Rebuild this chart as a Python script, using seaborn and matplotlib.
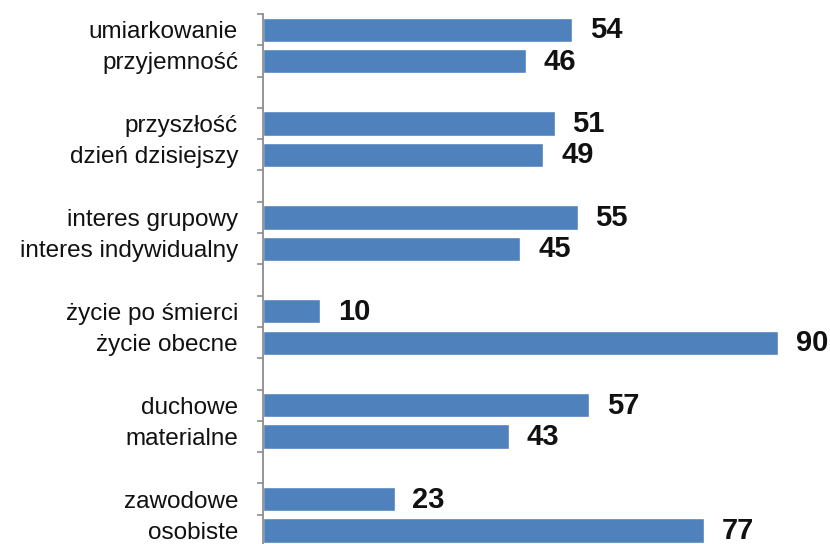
import matplotlib
matplotlib.use("Agg")
import matplotlib.pyplot as plt
import seaborn as sns
import pandas as pd
import numpy as np
from matplotlib.ticker import FixedLocator

# Pairs of opposing values, top to bottom
labels = [
    "umiarkowanie", "przyjemność",
    "przyszłość", "dzień dzisiejszy",
    "interes grupowy", "interes indywidualny",
    "życie po śmierci", "życie obecne",
    "duchowe", "materialne",
    "zawodowe", "osobiste",
]
values = [54, 46, 51, 49, 55, 45, 10, 90, 57, 43, 23, 77]

sns.set_theme(style="white")
plt.rcParams["font.family"] = ["Liberation Sans", "DejaVu Sans"]

# Each pair is followed by an empty row to separate the groups
order = []
for g in range(len(labels) // 2):
    order += [labels[2 * g], labels[2 * g + 1], f"_sep{g}"]

df = pd.DataFrame({"label": labels, "value": values})

W, H = 830, 544
fig = plt.figure(figsize=(W / 100, H / 100), dpi=100)
slot = 31.3
top_px = 14
left_px = 263
n = len(order)
ax_h = n * slot
ax = fig.add_axes([left_px / W, 1 - (top_px + ax_h) / H,
                   (W - left_px) / W, ax_h / H])

sns.barplot(data=df, y="label", x="value", order=order, orient="h",
            color="#4F81BD", saturation=1, width=0.77, ax=ax)

ax.set_xlim(0, 99.1)
ax.set_ylim(n - 0.5, -0.5)
ax.set_xlabel("")
ax.set_ylabel("")
ax.set_xticks([])

pos = {name: i for i, name in enumerate(order)}
ax.set_yticks([pos[l] for l in labels])
ax.set_yticklabels(labels, fontsize=17.5, color="#111111")
ax.tick_params(axis="y", which="major", length=0, pad=18)
ax.yaxis.set_minor_locator(FixedLocator(np.arange(-0.5, n, 1.0)))
ax.tick_params(axis="y", which="minor", length=4.5, width=1.2,
               color="#8c8c8c", left=True)

for side in ["top", "right", "bottom"]:
    ax.spines[side].set_visible(False)
ax.spines["left"].set_color("#8c8c8c")
ax.spines["left"].set_linewidth(1.3)

for lab, v in zip(labels, values):
    ax.text(v + 3.1, pos[lab] + 0.02, str(v), ha="left", va="center",
            fontsize=21, fontweight="bold", color="#111111")

fig.savefig("out.png", dpi=100)
